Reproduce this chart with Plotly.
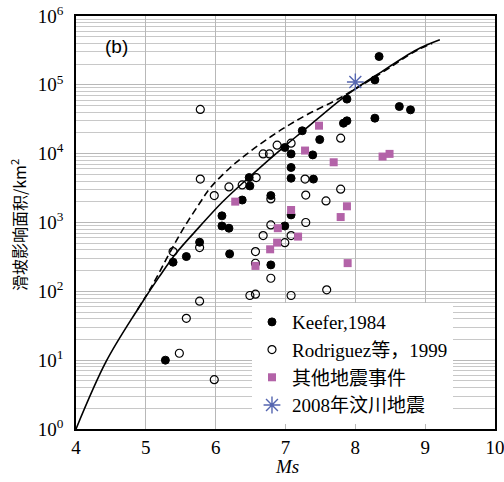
import plotly.graph_objects as go

# ---- data ----
keefer_ms = [5.28, 5.39, 5.58, 5.77, 6.09, 6.09, 6.19, 6.20, 6.38, 6.48, 6.49, 6.79, 6.79,
             6.99, 6.99, 7.08, 7.08, 7.08, 7.08, 7.24, 7.39, 7.40, 7.49, 7.83, 7.88, 7.88,
             8.28, 8.28, 8.34, 8.63, 8.79]
keefer_area = [10, 265, 320, 517, 1250, 890, 826, 350, 2120, 4500, 3400, 2460, 242,
               12300, 890, 9930, 6300, 4400, 1290, 21500, 9600, 4270, 16000, 27700, 30000, 62000,
               32800, 118000, 258000, 48400, 43300]

rod_ms = [5.39, 5.48, 5.58, 5.77, 5.77, 5.78, 5.78, 5.98, 5.98, 6.19, 6.38, 6.49, 6.57,
          6.57, 6.57, 6.58, 6.68, 6.68, 6.77, 6.79, 6.79, 6.79, 6.88, 6.99, 7.08, 7.08,
          7.08, 7.28, 7.29, 7.29, 7.58, 7.59, 7.79, 7.79]
rod_area = [378, 12.6, 40.6, 432, 72, 44000, 4270, 2460, 5.2, 3290, 3520, 87, 91,
            378, 256, 4500, 9930, 646, 9930, 2200, 922, 155, 13300, 510, 14200, 646,
            87, 4270, 2500, 1000, 2060, 105, 16800, 3050]

other_ms = [6.28, 6.57, 6.78, 6.88, 6.89, 7.08, 7.18, 7.28, 7.48, 7.69, 7.79, 7.88, 7.89, 8.39, 8.49]
other_area = [2010, 234, 408, 510, 826, 1520, 624, 11100, 25500, 7500, 1200, 1720, 257, 9080, 9930]

wenchuan_ms = [8.0]
wenchuan_area = [110000]

solid_ms = [4.00, 4.43, 4.88, 5.19, 5.43, 5.77, 6.10, 6.49, 6.99, 7.24, 7.88, 8.31, 8.88, 9.21]
solid_area = [1, 9.5, 54, 162, 355, 870, 2000, 4650, 12900, 20900, 71600, 140000, 324000, 451000]

dash_ms = [4.88, 5.10, 5.31, 5.53, 5.77, 5.92, 6.21, 6.49, 6.78, 7.07, 7.35, 7.69, 7.95, 8.31, 8.88, 9.10]
dash_area = [54, 126, 316, 794, 1900, 3160, 6300, 10700, 17400, 26900, 38900, 57500, 81300,
             135000, 316000, 398000]

x_ticks = [4, 5, 6, 7, 8, 9, 10]
y_tickvals = [1, 10, 100, 1000, 10000, 100000, 1000000]
y_ticktext = ["10<sup>0</sup>", "10<sup>1</sup>", "10<sup>2</sup>", "10<sup>3</sup>",
              "10<sup>4</sup>", "10<sup>5</sup>", "10<sup>6</sup>"]

names = ["Keefer,1984", "Rodriguez等，1999", "其他地震事件", "2008年汶川地震"]

serif = "Liberation Serif, Noto Sans CJK SC, serif"

fig = go.Figure()

fig.add_trace(go.Scatter(x=solid_ms, y=solid_area, mode="lines", line_shape="spline",
                         line=dict(color="black", width=1.6), showlegend=False, hoverinfo="skip"))
fig.add_trace(go.Scatter(x=dash_ms, y=dash_area, mode="lines", line_shape="spline",
                         line=dict(color="black", width=1.6, dash="7px,4px"),
                         showlegend=False, hoverinfo="skip"))

fig.add_trace(go.Scatter(x=keefer_ms, y=keefer_area, mode="markers", name=names[0],
                         marker=dict(symbol="circle", size=8, color="black",
                                     line=dict(color="black", width=1))))
fig.add_trace(go.Scatter(x=rod_ms, y=rod_area, mode="markers", name=names[1],
                         marker=dict(symbol="circle-open", size=8, color="black",
                                     line=dict(color="black", width=1.2))))
fig.add_trace(go.Scatter(x=other_ms, y=other_area, mode="markers", name=names[2],
                         marker=dict(symbol="square", size=8, color="#b363a8",
                                     line=dict(width=0))))
fig.add_trace(go.Scatter(x=wenchuan_ms, y=wenchuan_area, mode="markers", name=names[3],
                         marker=dict(symbol="asterisk-open", size=14, color="#5566b0",
                                     line=dict(color="#5566b0", width=1.4))))

fig.add_annotation(x=4.58, y=5.55, xref="x", yref="y", text="(b)", showarrow=False,
                   font=dict(family="Liberation Sans, Arial, sans-serif", size=19, color="black"))
fig.add_annotation(x=0.503, y=-0.092, xref="paper", yref="paper", text="<i>Ms</i>",
                   showarrow=False, xanchor="center", yanchor="middle",
                   font=dict(family=serif, size=19, color="black"))
fig.add_annotation(x=-0.136, y=0.494, xref="paper", yref="paper",
                   text="滑坡影响面积/km<sup>2</sup>", textangle=-90,
                   showarrow=False, xanchor="center", yanchor="middle",
                   font=dict(family="Noto Sans CJK SC, sans-serif", size=16, color="black"))

fig.update_layout(
    width=504, height=482,
    margin=dict(l=76, r=9, t=16, b=53, autoexpand=False),
    paper_bgcolor="white", plot_bgcolor="white",
    legend=dict(x=0.42, y=0.305, xanchor="left", yanchor="top",
                bgcolor="white", borderwidth=0, tracegroupgap=0,
                font=dict(family=serif, size=19, color="black"),
                itemwidth=30),
    xaxis=dict(range=[4, 10], tickvals=x_ticks, showgrid=True, gridcolor="#b8b8b8", gridwidth=1,
               zeroline=False, showline=True, linecolor="black", linewidth=1.6, mirror=True,
               ticks="", automargin=False, ticklabeloverflow="allow",
               tickfont=dict(family=serif, size=19, color="black")),
    yaxis=dict(type="log", range=[0, 6], tickvals=y_tickvals, ticktext=y_ticktext,
               showgrid=True, gridcolor="#b8b8b8", gridwidth=1,
               minor=dict(showgrid=True, gridcolor="#c8c8c8", gridwidth=1, dtick="D1", ticks=""),
               zeroline=False, showline=True, linecolor="black", linewidth=1.6, mirror=True,
               ticks="", automargin=False, ticklabelstandoff=7, ticklabeloverflow="allow",
               tickfont=dict(family=serif, size=19, color="black")),
)

# remove the default 8px body margin so the figure fills the 504x482 window exactly
fig.write_html("out.html", config={"displayModeBar": False},
               post_script="document.body.style.margin='0px';")
